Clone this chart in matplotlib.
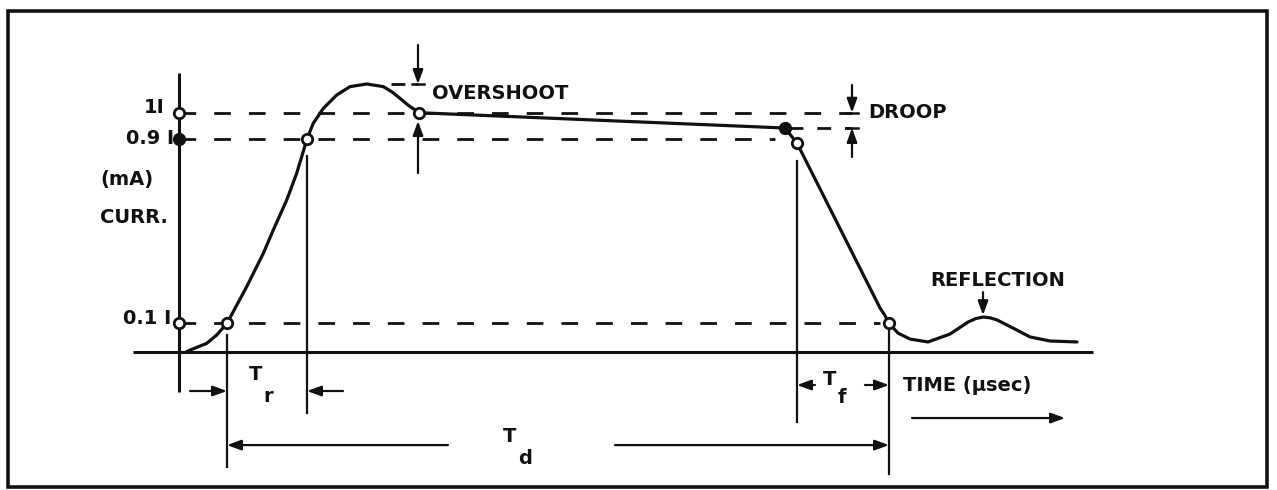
import matplotlib
matplotlib.use("Agg")
import matplotlib.pyplot as plt
from matplotlib.patches import Rectangle

# ---------------- data (time in arbitrary µs units, current in % of I) ----------------
wave_t = [0.35, 0.55, 1.385, 1.885, 2.4, 3.385, 4.215, 4.715, 5.385, 5.885, 6.4, 6.715,
          7.215, 7.885, 8.55, 9.385, 10.215, 10.65, 11.05, 11.45, 12.0, 30.3, 30.9,
          35.05, 35.28, 35.5, 35.95, 36.55, 37.45, 38.55, 39.45, 39.85, 40.2, 40.55,
          40.9, 41.7, 42.55, 43.55, 44.9]
wave_i = [0, 0.8, 3.6, 7.1, 12.0, 27.3, 41.2, 51.0, 63.5, 74.7, 89.0, 95.6,
          101.8, 107.4, 110.9, 112.0, 110.9, 108.7, 106.0, 103.2, 100.0, 93.6, 87.3,
          18.4, 15.5, 12.0, 7.9, 5.4, 4.2, 7.5, 12.5, 14.0, 14.6, 14.3,
          13.4, 10.0, 6.3, 4.6, 4.2]

level_values = [100, 89, 12]
level_labels = ["1I", "0.9 I", "0.1 I"]
level_ends = [33.65, 29.8, 35.05]

open_pts_t = [0, 0, 2.4, 6.4, 12.0, 30.9, 35.5]
open_pts_i = [100, 12, 12, 89, 100, 87.3, 12]
filled_pts_t = [0, 30.3]
filled_pts_i = [89, 93.6]

t_rise10, t_rise90 = 2.4, 6.4
t_fall90, t_fall10 = 30.9, 35.5
t_overshoot = 11.95
overshoot_peak = 112.0
t_droop = 33.65
droop_level = 93.6
t_reflection = 40.2
reflection_peak = 14.6

# ---------------- figure ----------------
fig = plt.figure(figsize=(12.77, 4.90), dpi=100)
ax = fig.add_axes([0, 0, 1, 1])
ax.set_xlim(-8.95, 54.9)
ax.set_ylim(-57.67, 147.1)
ax.axis("off")

K = "#111111"
FONT = dict(family="DejaVu Sans", weight="bold", color=K)

fig.patches.append(Rectangle((0.0063, 0.0061), 0.9859, 0.9714, transform=fig.transFigure,
                             fill=False, lw=2.6, edgecolor=K))

# axes lines
ax.plot([-2.3, 45.7], [0, 0], color=K, lw=2.2, solid_capstyle="butt")
ax.plot([0, 0], [-16.7, 116.6], color=K, lw=2.2, solid_capstyle="butt")

# dashed reference levels
for v, e in zip(level_values, level_ends):
    ax.plot([0, e], [v, v], color=K, lw=2.0, linestyle=(0, (6, 6.5)))
ax.plot([t_fall90 - 0.4, t_droop], [droop_level, droop_level], color=K, lw=2.0,
        linestyle=(0, (5, 5)))
ax.plot([10.6, t_overshoot], [overshoot_peak, overshoot_peak], color=K, lw=2.0,
        linestyle=(0, (5, 4)))

# waveform
ax.plot(wave_t, wave_i, color=K, lw=2.3, solid_joinstyle="round", solid_capstyle="round")

# key points
ax.plot(open_pts_t, open_pts_i, "o", ms=7.5, mfc="white", mec=K, mew=2.0)
ax.plot(filled_pts_t, filled_pts_i, "o", ms=7.5, mfc=K, mec=K, mew=2.0)

# vertical dimension lines
ax.plot([t_rise10] * 2, [7, -48], color=K, lw=1.6)
ax.plot([t_rise90] * 2, [82, -25.5], color=K, lw=1.6)
ax.plot([t_fall90] * 2, [80, -29.3], color=K, lw=1.6)
ax.plot([t_fall10] * 2, [9, -51], color=K, lw=1.6)

AP = dict(arrowstyle="-|>,head_length=0.6,head_width=0.22", color=K, lw=1.6,
          shrinkA=0, shrinkB=0, mutation_scale=14)

def arrow(x0, y0, x1, y1):
    ax.annotate("", xy=(x1, y1), xytext=(x0, y0), arrowprops=AP)

# overshoot markers
arrow(t_overshoot, 128.3, t_overshoot, overshoot_peak)
ax.plot([t_overshoot - 0.3, t_overshoot + 0.3], [overshoot_peak] * 2, color=K, lw=1.8)
arrow(t_overshoot, 74.8, t_overshoot, 96.5)
# droop markers
arrow(t_droop, 111.6, t_droop, 100)
ax.plot([t_droop - 0.3, t_droop + 0.3], [100, 100], color=K, lw=1.8)
arrow(t_droop, 81.5, t_droop, droop_level)
ax.plot([t_droop - 0.3, t_droop + 0.3], [droop_level] * 2, color=K, lw=1.8)

# Tr
arrow(0.55, -16.3, t_rise10, -16.3)
arrow(8.2, -16.3, t_rise90, -16.3)
# Tf
arrow(31.8, -13.8, t_fall90, -13.8)
arrow(34.3, -13.8, t_fall10, -13.8)
# Td
arrow(13.45, -38.9, t_rise10, -38.9)
arrow(21.8, -38.9, t_fall10, -38.9)
# time arrow
arrow(36.65, -27.6, 44.3, -27.6)
# reflection arrow
arrow(t_reflection, 25, t_reflection, reflection_peak + 0.8)

# ---------------- text ----------------
FS = 14
ax.text(-0.7, 102, level_labels[0], ha="right", va="center", fontsize=FS, **FONT)
ax.text(-0.25, 89.4, level_labels[1], ha="right", va="center", fontsize=FS, **FONT)
ax.text(-0.4, 14.2, level_labels[2], ha="right", va="center", fontsize=FS, **FONT)
ax.text(-3.95, 71.9, "(mA)", ha="left", va="center", fontsize=FS, **FONT)
ax.text(-3.95, 56.4, "CURR.", ha="left", va="center", fontsize=FS, **FONT)

ax.text(12.65, 108.2, "OVERSHOOT", ha="left", va="center", fontsize=FS, **FONT)
ax.text(34.45, 99.9, "DROOP", ha="left", va="center", fontsize=FS, **FONT)
ax.text(37.55, 29.7, "REFLECTION", ha="left", va="center", fontsize=FS, **FONT)
ax.text(36.2, -13.8, "TIME (\u03bcsec)", ha="left", va="center", fontsize=FS, **FONT)

ax.text(3.85, -9.6, "T", ha="center", va="center", fontsize=FS, **FONT)
ax.text(4.45, -18.8, "r", ha="center", va="center", fontsize=FS, **FONT)
ax.text(16.55, -35.5, "T", ha="center", va="center", fontsize=FS, **FONT)
ax.text(17.3, -44.3, "d", ha="center", va="center", fontsize=FS, **FONT)
ax.text(32.55, -11.7, "T", ha="center", va="center", fontsize=FS, **FONT)
ax.text(33.15, -19.2, "f", ha="center", va="center", fontsize=FS, **FONT)

fig.savefig("out.png", dpi=100, facecolor="white")
